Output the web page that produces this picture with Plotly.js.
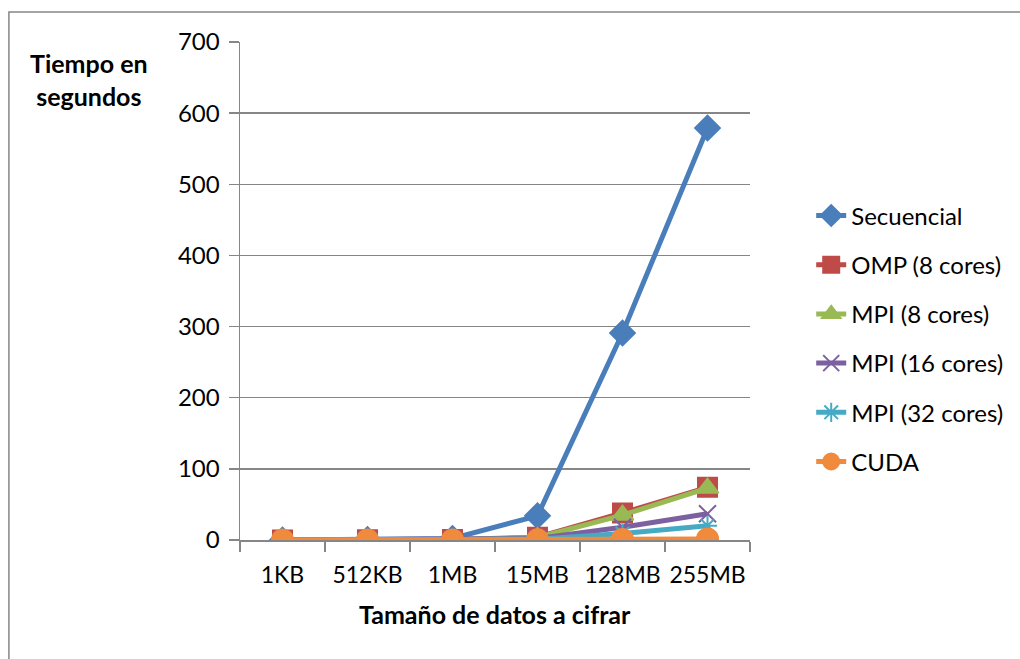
<!DOCTYPE html>
<html>
<head>
<meta charset="utf-8">
<script src="https://cdn.plot.ly/plotly-3.0.1.min.js"></script>
<style>html,body{margin:0;padding:0;background:#fff;}</style>
</head>
<body>
<div id="chart" style="width:1020px;height:659px;"></div>
<script>
const categories = ["1KB", "512KB", "1MB", "15MB", "128MB", "255MB"];
const seriesNames = ["Secuencial", "OMP (8 cores)", "MPI (8 cores)", "MPI (16 cores)", "MPI (32 cores)", "CUDA"];
const secuencial = [0.1, 0.6, 2.2, 34, 291, 579];
const omp8 = [0.05, 0.2, 0.6, 4, 38, 74];
const mpi8 = [0.05, 0.2, 0.5, 3.5, 35, 73];
const mpi16 = [0.03, 0.1, 0.3, 2, 18, 37];
const mpi32 = [0.02, 0.08, 0.2, 1, 9, 20];
const cuda = [0.01, 0.02, 0.05, 0.2, 0.8, 1.5];
const yTicks = [0, 100, 200, 300, 400, 500, 600, 700];

const colors = ["#4A7EBB", "#BE4B48", "#98B954", "#7D60A0", "#46AAC5", "#F08A3C"];
const symbols = ["diamond", "square", "triangle-up", "x-thin-open", "asterisk-open", "circle"];
const sizes = [19, 19, 19, 17, 16, 21];
const values = [secuencial, omp8, mpi8, mpi16, mpi32, cuda];

const traces = values.map((v, i) => ({
  x: categories, y: v, name: seriesNames[i], type: "scatter", mode: "lines+markers",
  legendgroup: "g" + i,
  line: {color: colors[i], width: 5},
  marker: {symbol: symbols[i], size: sizes[i], color: colors[i], line: {color: colors[i], width: 2}}
}));

const font = "Lato, 'Open Sans', 'Liberation Sans', sans-serif";
const fs = 24;
const layout = {
  width: 1020, height: 659,
  margin: {l: 240, r: 268, t: 42, b: 119},
  paper_bgcolor: "#fff", plot_bgcolor: "#fff",
  font: {family: font, size: fs, color: "#000"},
  showlegend: true,
  legend: {x: 1.12, xanchor: "left", y: 0.696, yanchor: "top", tracegroupgap: 15,
           font: {family: font, size: fs, color: "#000"}, bgcolor: "rgba(0,0,0,0)"},
  xaxis: {type: "category", range: [-0.5, 5.5], showgrid: false, showline: true,
          linecolor: "#868686", linewidth: 1.5, ticks: "outside", tickson: "boundaries",
          ticklen: 10, tickcolor: "#868686", tickwidth: 1.5, zeroline: false, ticklabelstandoff: 14,
          tickangle: 0, tickfont: {family: font, size: 23}},
  yaxis: {range: [0, 700], tickvals: yTicks, ticktext: yTicks.map(String), showgrid: true, gridcolor: "#868686", gridwidth: 1.5,
          showline: true, linecolor: "#868686", linewidth: 1.5, ticks: "outside", ticklen: 10,
          tickcolor: "#868686", tickwidth: 1.5, zeroline: false, ticklabelstandoff: 4,
          tickfont: {family: font, size: fs}},
  annotations: [
    {text: "<b>Tiempo en<br>segundos</b>", xref: "paper", yref: "paper", x: (88 - 240) / 512, y: (540 - 80) / 498,
     xanchor: "center", yanchor: "middle", showarrow: false, align: "center",
     font: {family: font, size: 25, color: "#000"}},
    {text: "<b>Tamaño de datos a cifrar</b>", xref: "paper", yref: "paper", x: (496 - 240) / 512, y: (540 - 614) / 498,
     xanchor: "center", yanchor: "middle", showarrow: false,
     font: {family: font, size: 25, color: "#000"}}
  ],
  shapes: [
    {type: "rect", xref: "paper", yref: "paper", x0: (8 - 240) / 512, x1: (1030 - 240) / 512,
     y0: (540 - 670) / 498, y1: (540 - 12) / 498, line: {color: "#868686", width: 1.5}, fillcolor: "rgba(0,0,0,0)", layer: "below"}
  ]
};

Plotly.newPlot("chart", traces, layout, {displayModeBar: false, staticPlot: true});
</script>
</body>
</html>
